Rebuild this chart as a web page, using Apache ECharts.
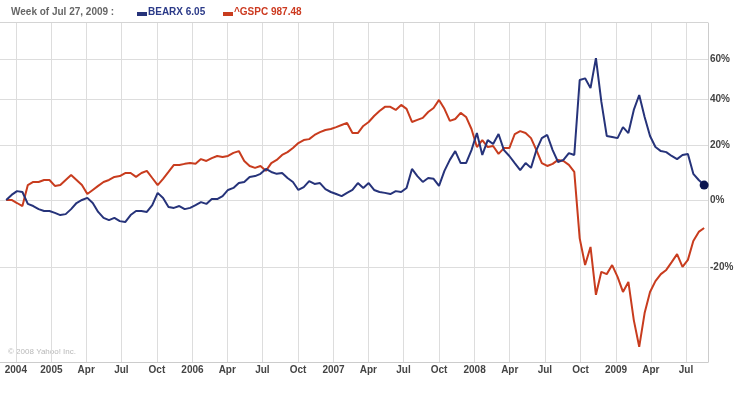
<!DOCTYPE html>
<html><head><meta charset="utf-8">
<script src="https://cdn.jsdelivr.net/npm/echarts@6/dist/echarts.min.js"></script>
<style>html,body{margin:0;padding:0;background:#fff}#c{width:747px;height:397px}</style>
</head><body><div id="c"></div>
<script>
const headerText = 'Week of Jul 27, 2009 :';
const seriesNames = ['BEARX', '^GSPC'];
const lastQuotes = ['6.05', '987.48'];
const tickDates = ['2004-10-01','2005-01-01','2005-04-01','2005-07-01','2005-10-01','2006-01-01','2006-04-01','2006-07-01','2006-10-01','2007-01-01','2007-04-01','2007-07-01','2007-10-01','2008-01-01','2008-04-01','2008-07-01','2008-10-01','2009-01-01','2009-04-01','2009-07-01'];
const tickLabels = ['2004','2005','Apr','Jul','Oct','2006','Apr','Jul','Oct','2007','Apr','Jul','Oct','2008','Apr','Jul','Oct','2009','Apr','Jul'];
const pctTicks = [-20, 0, 20, 40, 60];
const weeks = ['2004-09-06','2004-09-20','2004-10-04','2004-10-18','2004-11-01','2004-11-15','2004-11-29','2004-12-13','2004-12-27',
'2005-01-10','2005-01-24','2005-02-07','2005-02-21','2005-03-07','2005-03-21','2005-04-04','2005-04-18','2005-05-02','2005-05-16','2005-05-30','2005-06-13','2005-06-27','2005-07-11','2005-07-25','2005-08-08','2005-08-22','2005-09-05','2005-09-19','2005-10-03','2005-10-17','2005-10-31','2005-11-14','2005-11-28','2005-12-12','2005-12-26',
'2006-01-09','2006-01-23','2006-02-06','2006-02-20','2006-03-06','2006-03-20','2006-04-03','2006-04-17','2006-05-01','2006-05-15','2006-05-29','2006-06-12','2006-06-26','2006-07-10','2006-07-24','2006-08-07','2006-08-21','2006-09-04','2006-09-18','2006-10-02','2006-10-16','2006-10-30','2006-11-13','2006-11-27','2006-12-11','2006-12-25',
'2007-01-08','2007-01-22','2007-02-05','2007-02-19','2007-03-05','2007-03-19','2007-04-02','2007-04-16','2007-04-30','2007-05-14','2007-05-28','2007-06-11','2007-06-25','2007-07-09','2007-07-23','2007-08-06','2007-08-20','2007-09-03','2007-09-17','2007-10-01','2007-10-15','2007-10-29','2007-11-12','2007-11-26','2007-12-10','2007-12-24',
'2008-01-07','2008-01-21','2008-02-04','2008-02-18','2008-03-03','2008-03-17','2008-03-31','2008-04-14','2008-04-28','2008-05-12','2008-05-26','2008-06-09','2008-06-23','2008-07-07','2008-07-21','2008-08-04','2008-08-18','2008-09-01','2008-09-15','2008-09-29','2008-10-13','2008-10-27','2008-11-10','2008-11-24','2008-12-08','2008-12-22',
'2009-01-05','2009-01-19','2009-02-02','2009-02-16','2009-03-02','2009-03-16','2009-03-30','2009-04-13','2009-04-27','2009-05-11','2009-05-25','2009-06-08','2009-06-22','2009-07-06','2009-07-20','2009-08-03','2009-08-17'];
const bearxPct = [
0.0, 1.7, 3.0, 2.7, -1.3, -2.0, -3.0, -3.6, -3.6, -4.2,
-4.9, -4.6, -3.0, -1.0, 0.0, 0.7, -1.0, -3.9, -5.8, -6.5,
-5.8, -6.8, -7.1, -4.9, -3.6, -3.6, -3.9, -1.7, 2.4, 0.7,
-2.3, -2.6, -2.0, -3.0, -2.6, -1.7, -0.7, -1.3, 0.3, 0.3,
1.3, 3.4, 4.1, 5.8, 6.2, 8.0, 8.3, 9.1, 10.9, 9.8,
9.1, 9.4, 7.6, 6.2, 3.4, 4.4, 6.5, 5.5, 5.8, 3.7,
2.7, 2.0, 1.3, 2.4, 3.4, 5.8, 4.1, 5.8, 3.4, 2.7,
2.4, 2.0, 3.0, 2.7, 4.1, 10.9, 8.3, 6.2, 7.6, 7.3,
4.8, 10.2, 14.3, 17.7, 13.1, 13.1, 18.1, 25.0, 16.2, 22.1,
20.5, 24.6, 18.1, 15.8, 13.1, 10.5, 13.1, 11.3, 18.1, 22.9,
24.2, 18.1, 13.5, 14.3, 16.9, 16.2, 49.2, 50.0, 45.2, 60.5,
38.8, 23.8, 23.4, 22.9, 27.5, 25.0, 35.0, 41.9, 31.9, 23.8,
19.3, 17.7, 17.3, 15.8, 14.6, 16.2, 16.6, 9.1, 6.9, 5.1];
const gspcPct = [
0.0, 0.0, -1.0, -2.0, 5.1, 6.2, 6.2, 6.9, 6.9, 4.8,
5.1, 6.9, 8.7, 6.9, 5.1, 2.0, 3.4, 4.8, 6.2, 6.9,
8.0, 8.3, 9.4, 9.4, 8.0, 9.4, 10.2, 7.6, 5.1, 7.3,
9.8, 12.4, 12.4, 12.8, 13.1, 12.8, 14.6, 13.9, 15.0, 15.8,
15.4, 15.8, 17.0, 17.7, 13.9, 12.0, 11.3, 12.0, 10.2, 13.1,
14.3, 16.2, 17.3, 18.9, 20.9, 22.1, 22.5, 24.2, 25.4, 26.3,
26.7, 27.5, 28.4, 29.3, 25.0, 25.0, 28.0, 29.7, 32.3, 34.5,
36.4, 36.4, 35.0, 37.3, 35.5, 29.7, 30.6, 31.5, 34.1, 35.9,
39.6, 35.5, 30.2, 31.0, 33.7, 31.9, 26.7, 19.3, 22.1, 19.3,
19.7, 16.6, 18.9, 18.9, 24.6, 25.8, 25.0, 22.9, 18.1, 13.1,
12.0, 12.8, 14.3, 13.9, 12.4, 9.8, -12.0, -19.5, -14.5, -27.1,
-21.3, -21.9, -19.5, -22.6, -26.4, -23.9, -33.0, -38.7, -31.4, -26.4,
-23.7, -21.9, -20.8, -18.7, -16.5, -20.0, -18.1, -12.8, -10.1, -8.9];

const BLUE = '#26337a', RED = '#c83c1e', GRID = '#dddddd', FONT = '"Liberation Sans", Arial, sans-serif';
const toRatio = p => 1 + p / 100;
const toTime = d => +echarts.time.parse(d);
const tickTimes = tickDates.map(toTime);
const chart = echarts.init(document.getElementById('c'), null, {renderer: 'canvas'});
const lastIdx = weeks.length - 1;
chart.setOption({
  animation: false,
  grid: {left: 0, right: 39, top: 23, bottom: 35, containLabel: false},
  xAxis: {
    type: 'value', min: toTime('2004-08-21'), max: toTime('2009-08-27'),
    axisLine: {show: true, lineStyle: {color: '#cccccc', width: 1}},
    axisTick: {show: false, customValues: tickTimes},
    splitLine: {show: true, lineStyle: {color: GRID, width: 1}},
    axisLabel: {customValues: tickTimes, margin: 3, color: '#444', fontFamily: FONT, fontWeight: 'bold', fontSize: 10,
      formatter: v => { let best = 0; tickTimes.forEach((t, i) => { if (Math.abs(t - v) < Math.abs(tickTimes[best] - v)) best = i; }); return tickLabels[best]; }}
  },
  yAxis: {
    type: 'log', logBase: 10, position: 'right', min: 0.5827, max: 1.804,
    axisLine: {show: true, lineStyle: {color: '#cccccc'}},
    axisTick: {show: false, customValues: pctTicks.map(toRatio)},
    splitLine: {show: true, lineStyle: {color: GRID}},
    axisLabel: {customValues: pctTicks.map(toRatio), margin: 2, color: '#444', fontFamily: FONT, fontWeight: 'bold', fontSize: 10,
      formatter: v => Math.round((v - 1) * 100) + '%'}
  },
  series: [
    {name: seriesNames[1], type: 'line', data: weeks.map((d, i) => [toTime(d), toRatio(gspcPct[i])]), showSymbol: false,
      lineStyle: {color: RED, width: 2}, itemStyle: {color: RED}, z: 2},
    {name: seriesNames[0], type: 'line', data: weeks.map((d, i) => [toTime(d), toRatio(bearxPct[i])]), showSymbol: true, showAllSymbol: true,
      symbol: 'circle', symbolSize: (v, p) => p.dataIndex === lastIdx ? 9 : 0,
      lineStyle: {color: BLUE, width: 2}, itemStyle: {color: '#0c1650', borderWidth: 0}, z: 3}
  ],
  graphic: [
    {type: 'line', shape: {x1: 0, y1: 22.5, x2: 708, y2: 22.5}, style: {stroke: '#d4d4d4', lineWidth: 1}, silent: true},
    {type: 'text', left: 11, top: 7, style: {text: headerText, fill: '#666', font: 'bold 10px ' + FONT}},
    {type: 'rect', shape: {x: 137, y: 12, width: 10, height: 4}, style: {fill: BLUE}},
    {type: 'text', left: 148, top: 7, style: {text: seriesNames[0] + ' ' + lastQuotes[0], fill: '#2b3a88', font: 'bold 10px ' + FONT}},
    {type: 'rect', shape: {x: 223, y: 12, width: 10, height: 4}, style: {fill: RED}},
    {type: 'text', left: 234, top: 7, style: {text: seriesNames[1] + ' ' + lastQuotes[1], fill: '#cc3a20', font: 'bold 10px ' + FONT}},
    {type: 'text', left: 8, top: 348, style: {text: '\u00a9 2008 Yahoo! Inc.', fill: '#b8b8b8', font: '8px ' + FONT}}
  ]
});
</script></body></html>
